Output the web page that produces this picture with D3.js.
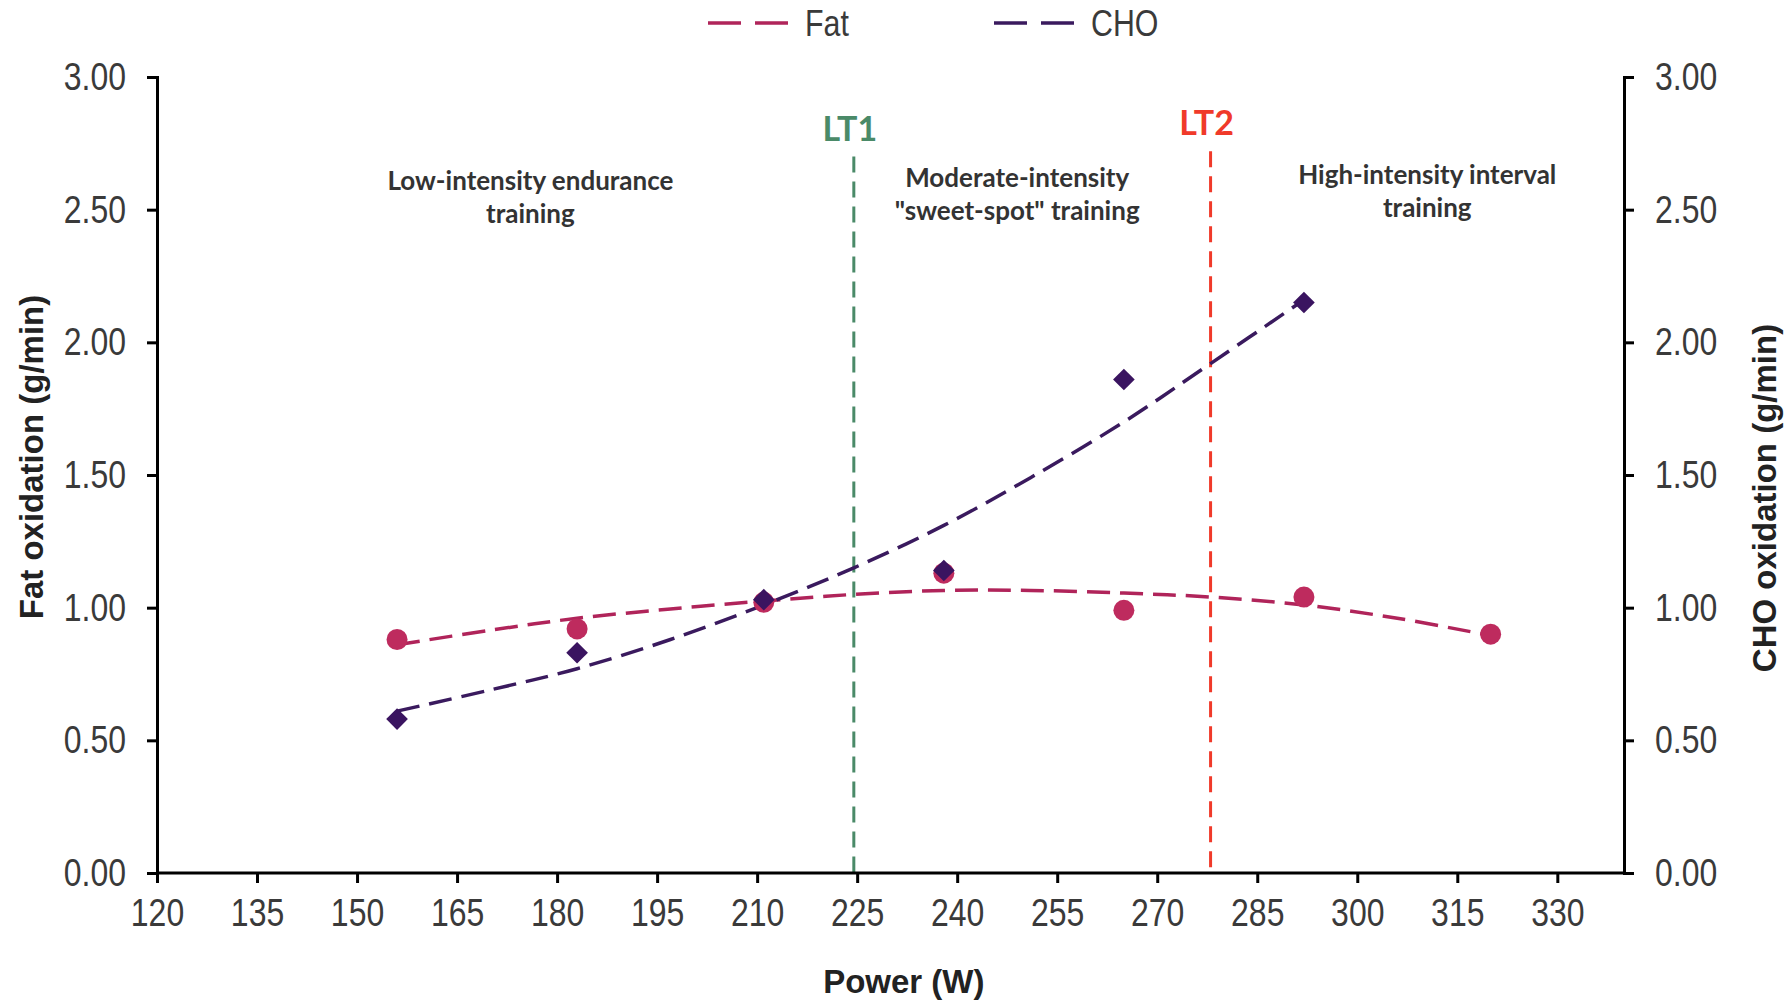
<!DOCTYPE html>
<html lang="en">
<head>
  <meta charset="utf-8" />
  <title>Fat and CHO oxidation vs power</title>
  <script src="https://cdn.jsdelivr.net/npm/d3@7"></script>
  <style>
    body { margin: 0; background: #fff; }
    .tick-label { font-family: "Liberation Sans", Arial, sans-serif; fill: #3a3a3a; }
    .axis-title { font-family: "Liberation Sans", Arial, sans-serif; font-weight: bold; fill: #222; }
    .zone-text { font-family: Lato, "Open Sans", sans-serif; font-weight: bold; fill: #333; }
    .fat-trend { fill: none; stroke: #b0245a; stroke-width: 3.5px; stroke-dasharray: 23, 10; }
    .cho-trend { fill: none; stroke: #3a1a5e; stroke-width: 3.5px; stroke-dasharray: 23, 10; }
  </style>
</head>
<body>
<script>
  var w = 1792;
  var h = 1005;
  var margin = { top: 77, right: 168, bottom: 132, left: 157 };
  var squeeze = 0.82; // the tick font in the original is condensed

  // measured points
  var power = [156, 183, 211, 238, 265, 292, 320];
  var fatValues = [0.88, 0.92, 1.02, 1.13, 0.99, 1.04, 0.90];
  var choValues = [0.58, 0.83, 1.03, 1.14, 1.86, 2.15];

  // trend lines
  var fatTrendPower = [156, 170, 183, 197, 211, 224.5, 238, 251, 265, 278, 292, 306, 320];
  var fatTrendValues = [0.86, 0.915, 0.96, 0.995, 1.025, 1.05, 1.065, 1.065, 1.055, 1.04, 1.01, 0.96, 0.895];
  var choTrendPower = [156, 170, 183, 197, 211, 224.5, 238, 251, 265, 278, 292];
  var choTrendValues = [0.61, 0.69, 0.77, 0.88, 1.01, 1.15, 1.31, 1.49, 1.70, 1.92, 2.16];

  var xTicks = [120, 135, 150, 165, 180, 195, 210, 225, 240, 255, 270, 285, 300, 315, 330];
  var yTicks = [0, 0.5, 1, 1.5, 2, 2.5, 3];

  var thresholds = [
    { name: "LT1", power: 224.5, color: "#4a8a68", top: 2.70 },
    { name: "LT2", power: 278, color: "#f03a2a", top: 2.72 }
  ];

  var zones = [
    { lines: ["Low-intensity endurance", "training"], power: 176, y: 2.575 },
    { lines: ["Moderate-intensity", "\"sweet-spot\" training"], power: 249, y: 2.585 },
    { lines: ["High-intensity interval", "training"], power: 310.5, y: 2.595 }
  ];

  var svg = d3.select("body").append("svg")
    .attr("width", w)
    .attr("height", h);

  var xScale = d3.scaleLinear()
    .domain([120, 340])
    .range([margin.left, w - margin.right]);

  var yScale = d3.scaleLinear()
    .domain([0, 3])
    .range([h - margin.bottom, margin.top]);

  var yScaleRight = d3.scaleLinear()
    .domain([0, 3])
    .range([h - margin.bottom, margin.top]);

  // threshold lines
  thresholds.forEach(function(t) {
    svg.append("line")
      .attr("x1", xScale(t.power))
      .attr("x2", xScale(t.power))
      .attr("y1", yScale(t.top))
      .attr("y2", yScale(0))
      .attr("stroke", t.color)
      .attr("stroke-width", 3)
      .attr("stroke-dasharray", "16,9");

    svg.append("text")
      .attr("class", "zone-text")
      .attr("x", xScale(t.power) - 4)
      .attr("y", yScale(t.top) - 16)
      .attr("text-anchor", "middle")
      .style("font-size", "34px")
      .style("fill", t.color)
      .text(t.name);
  });

  // zone labels
  zones.forEach(function(z) {
    var txt = svg.append("text")
      .attr("class", "zone-text")
      .attr("text-anchor", "middle")
      .style("font-size", "26px");
    z.lines.forEach(function(line, i) {
      txt.append("tspan")
        .attr("x", xScale(z.power))
        .attr("y", yScale(z.y) + i * 33)
        .text(line);
    });
  });

  // axes
  var xAxis = d3.axisBottom(xScale)
    .tickValues(xTicks)
    .tickSize(10)
    .tickFormat(d3.format("d"));

  var yAxis = d3.axisLeft(yScale)
    .tickValues(yTicks)
    .tickSize(10)
    .tickFormat(d3.format(".2f"));

  var yAxisRight = d3.axisRight(yScaleRight)
    .tickValues(yTicks)
    .tickSize(10)
    .tickFormat(d3.format(".2f"));

  function styleAxis(g) {
    g.select(".domain").attr("stroke", "#000").attr("stroke-width", 3);
    g.selectAll(".tick line").attr("stroke", "#000").attr("stroke-width", 3);
    g.selectAll(".tick text")
      .attr("class", "tick-label")
      .attr("fill", null)
      .attr("transform", "scale(" + squeeze + ",1)")
      .style("font-size", "39px");
  }

  svg.append("g")
    .attr("transform", "translate(0," + (h - margin.bottom) + ")")
    .call(xAxis)
    .call(styleAxis)
    .call(function(g) {
      g.select(".domain").attr("d", "M" + margin.left + ",0H" + (w - margin.right));
      g.selectAll(".tick text").attr("y", 25).attr("dy", "0.71em");
    });

  svg.append("g")
    .attr("transform", "translate(" + margin.left + ",0)")
    .call(yAxis)
    .call(styleAxis)
    .call(function(g) {
      g.selectAll(".tick text").attr("x", -31 / squeeze);
    });

  svg.append("g")
    .attr("transform", "translate(" + (w - margin.right) + ",0)")
    .call(yAxisRight)
    .call(styleAxis)
    .call(function(g) {
      g.selectAll(".tick text").attr("x", 31 / squeeze);
    });

  // axis titles
  svg.append("text")
    .attr("class", "axis-title")
    .attr("transform", "translate(" + 43 + "," + 457 + ") rotate(-90)")
    .attr("text-anchor", "middle")
    .style("font-size", "33px")
    .text("Fat oxidation (g/min)");

  svg.append("text")
    .attr("class", "axis-title")
    .attr("transform", "translate(" + 1776 + "," + 498 + ") rotate(-90)")
    .attr("text-anchor", "middle")
    .style("font-size", "33px")
    .text("CHO oxidation (g/min)");

  svg.append("text")
    .attr("class", "axis-title")
    .attr("x", xScale(232))
    .attr("y", 993)
    .attr("text-anchor", "middle")
    .style("font-size", "33px")
    .text("Power (W)");

  // trend lines
  var fatLine = d3.line()
    .x(function(d, i) { return xScale(fatTrendPower[i]); })
    .y(function(d) { return yScale(d); })
    .curve(d3.curveCatmullRom);

  var choLine = d3.line()
    .x(function(d, i) { return xScale(choTrendPower[i]); })
    .y(function(d) { return yScaleRight(d); })
    .curve(d3.curveCatmullRom);

  svg.append("path")
    .datum(fatTrendValues)
    .attr("class", "fat-trend")
    .attr("d", fatLine);

  svg.append("path")
    .datum(choTrendValues)
    .attr("class", "cho-trend")
    .attr("d", choLine);

  // points
  svg.selectAll(".fat-point")
    .data(fatValues)
    .enter()
    .append("circle")
    .attr("class", "fat-point")
    .attr("cx", function(d, i) { return xScale(power[i]); })
    .attr("cy", function(d) { return yScale(d); })
    .attr("r", 10.5)
    .attr("fill", "#be2b5e");

  var diamond = d3.symbol().type(d3.symbolSquare).size(235);

  svg.selectAll(".cho-point")
    .data(choValues)
    .enter()
    .append("path")
    .attr("class", "cho-point")
    .attr("d", diamond)
    .attr("transform", function(d, i) {
      return "translate(" + xScale(power[i]) + "," + yScaleRight(d) + ") rotate(45)";
    })
    .attr("fill", "#3a1460");

  // legend
  var legend = [
    { name: "Fat", color: "#b0245a", x: 708 },
    { name: "CHO", color: "#3a1a5e", x: 994 }
  ];

  legend.forEach(function(l) {
    svg.append("line")
      .attr("x1", l.x)
      .attr("x2", l.x + 80)
      .attr("y1", 23)
      .attr("y2", 23)
      .attr("stroke", l.color)
      .attr("stroke-width", 3.5)
      .attr("stroke-dasharray", "33,14");

    svg.append("g")
      .attr("transform", "translate(" + (l.x + 97) + ",23) scale(" + squeeze + ",1)")
      .append("text")
      .attr("class", "tick-label")
      .attr("dy", "0.36em")
      .style("font-size", "37px")
      .text(l.name);
  });
</script>
</body>
</html>
